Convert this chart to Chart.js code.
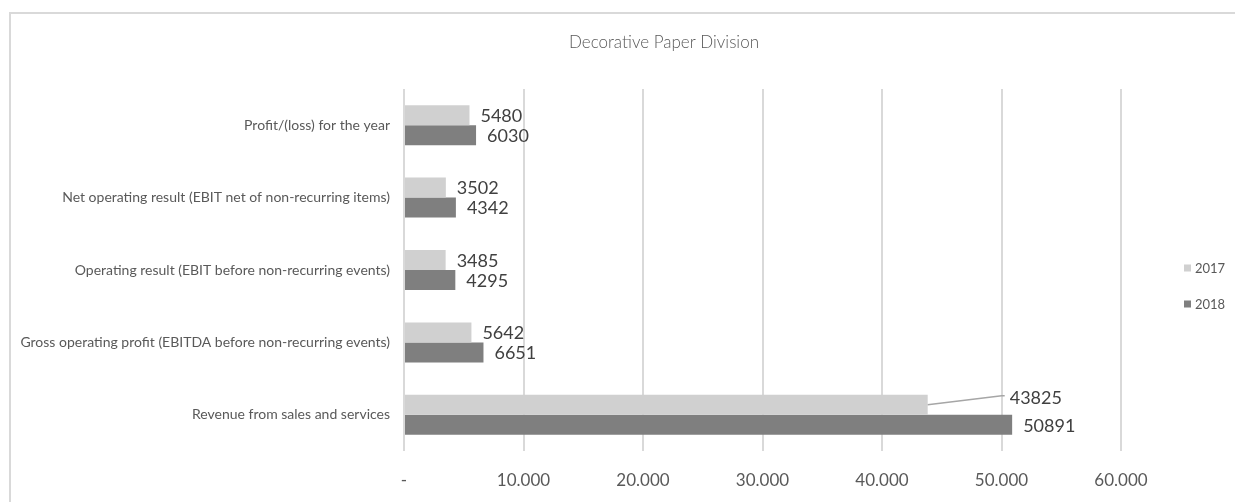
<!DOCTYPE html>
<html>
<head>
<meta charset="utf-8">
<script src="https://cdn.jsdelivr.net/npm/chart.js@4/dist/chart.umd.min.js"></script>
<style>
  html, body { margin: 0; padding: 0; background: #ffffff; }
  #wrap { position: relative; width: 1235px; height: 502px; overflow: hidden; }
  #frame { position: absolute; left: 9px; top: 12px; width: 1300px; height: 600px;
           border-top: 2px solid #d9d9d9; border-left: 2px solid #d9d9d9; }
  canvas { position: absolute; left: 0; top: 0; }
</style>
</head>
<body>
<div id="wrap">
  <div id="frame"></div>
  <canvas id="chart" width="1235" height="502"></canvas>
</div>
<script>
// Chart text and values
const chartTitle = 'Decorative Paper Division';
const categories = [
  'Profit/(loss) for the year',
  'Net operating result (EBIT net of non-recurring items)',
  'Operating result (EBIT before non-recurring events)',
  'Gross operating profit (EBITDA before non-recurring events)',
  'Revenue from sales and services'
];
const seriesNames = ['2017', '2018'];
const values2017 = [5480, 3502, 3485, 5642, 43825];
const values2018 = [6030, 4342, 4295, 6651, 50891];
const tickLabels = ['-', '10.000', '20.000', '30.000', '40.000', '50.000', '60.000'];

const FONT = 'Lato, "Open Sans", sans-serif';

// Value labels next to each bar; one label sits on a leader line
const valueLabels = {
  id: 'valueLabels',
  afterDatasetsDraw(chart, args, opts) {
    const ctx = chart.ctx;
    ctx.save();
    ctx.font = opts.font;
    ctx.fillStyle = opts.color;
    ctx.textBaseline = 'middle';
    ctx.textAlign = 'left';
    chart.data.datasets.forEach((ds, di) => {
      const meta = chart.getDatasetMeta(di);
      meta.data.forEach((bar, i) => {
        const text = String(ds.data[i]);
        const callout = (opts.callouts || []).find(c => c.dataset === di && c.index === i);
        if (callout) {
          const x1 = bar.x + callout.dx;
          const y1 = bar.y + callout.dy;
          ctx.beginPath();
          ctx.strokeStyle = opts.lineColor;
          ctx.lineWidth = 1.5;
          ctx.moveTo(bar.x, bar.y);
          ctx.lineTo(x1, y1);
          ctx.lineTo(x1 + 3, y1);
          ctx.stroke();
          ctx.fillText(text, x1 + callout.gap, y1 + 2);
        } else {
          ctx.fillText(text, bar.x + opts.offset, bar.y + 1);
        }
      });
    });
    ctx.restore();
  }
};

// Title and a compact legend at the right side
const headerLegend = {
  id: 'headerLegend',
  afterDraw(chart, args, opts) {
    const ctx = chart.ctx;
    ctx.save();
    ctx.font = opts.titleFont;
    ctx.fillStyle = opts.titleColor;
    ctx.textAlign = 'center';
    ctx.textBaseline = 'middle';
    ctx.fillText(chartTitle, opts.titleX, opts.titleY);

    ctx.font = opts.legendFont;
    ctx.textAlign = 'left';
    chart.data.datasets.forEach((ds, i) => {
      const y = opts.legendY + i * opts.legendStep;
      ctx.fillStyle = ds.backgroundColor;
      ctx.fillRect(opts.legendX, y - opts.box / 2, opts.box, opts.box);
      ctx.fillStyle = opts.legendColor;
      ctx.fillText(ds.label, opts.legendX + opts.box + 4, y + 1);
    });
    ctx.restore();
  }
};

new Chart(document.getElementById('chart'), {
  type: 'bar',
  data: {
    labels: categories,
    datasets: [
      { label: seriesNames[0], data: values2017, backgroundColor: '#d0d0d0' },
      { label: seriesNames[1], data: values2018, backgroundColor: '#7f7f7f' }
    ]
  },
  options: {
    indexAxis: 'y',
    responsive: false,
    animation: false,
    maintainAspectRatio: false,
    layout: { padding: { left: 10, top: 89, right: 114, bottom: 10 } },
    datasets: { bar: { categoryPercentage: 0.5525, barPercentage: 1.0, borderWidth: 0 } },
    scales: {
      x: {
        min: 0,
        max: 60000,
        afterFit(scale) { scale.height = 41; },
        grid: { color: '#d9d9d9', lineWidth: 2, drawTicks: false },
        border: { display: false },
        ticks: {
          stepSize: 10000,
          padding: 19,
          color: '#595959',
          font: { family: FONT, size: 17 },
          callback: (v, i) => tickLabels[i]
        }
      },
      y: {
        afterFit(scale) { scale.width = 394; },
        grid: { display: false, drawTicks: false },
        border: { display: false },
        ticks: {
          padding: 14,
          color: '#595959',
          font: { family: FONT, size: 14 }
        }
      }
    },
    plugins: {
      legend: { display: false },
      title: { display: false },
      tooltip: { enabled: false },
      valueLabels: {
        font: '18px ' + FONT,
        color: '#404040',
        lineColor: '#a6a6a6',
        offset: 11,
        callouts: [{ dataset: 0, index: 4, dx: 74, dy: -9, gap: 8 }]
      },
      headerLegend: {
        titleFont: '300 17px ' + FONT,
        titleColor: '#595959',
        titleX: 664,
        titleY: 43,
        legendFont: '13px ' + FONT,
        legendColor: '#595959',
        legendX: 1184,
        legendY: 268,
        legendStep: 36,
        box: 7
      }
    }
  },
  plugins: [valueLabels, headerLegend]
});
</script>
</body>
</html>
